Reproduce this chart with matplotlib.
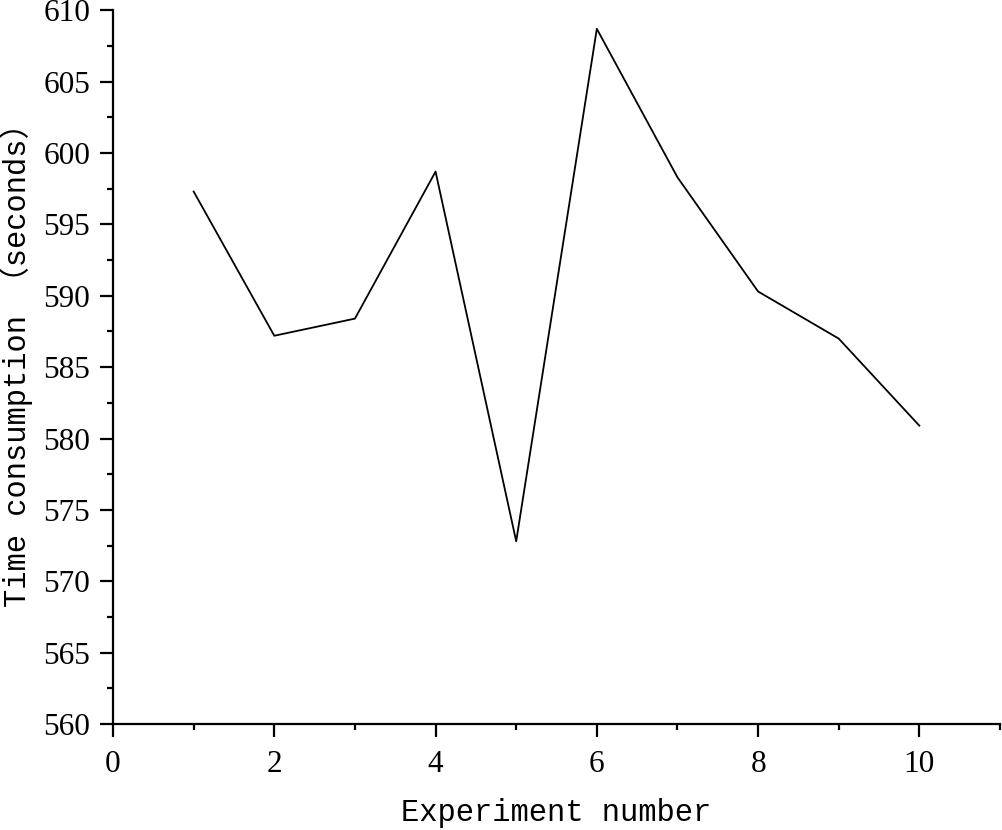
import matplotlib
matplotlib.use("Agg")
import matplotlib.pyplot as plt
from matplotlib.ticker import MultipleLocator

# experiment number vs time consumption
experiment = [1, 2, 3, 4, 5, 6, 7, 8, 9, 10]
time_sec = [597.3, 587.2, 588.4, 598.7, 572.8, 608.7, 598.3, 590.3, 587.0, 580.9]

fig = plt.figure(figsize=(10.03, 8.3), dpi=100)
ax = fig.add_axes([0.1127, 0.1277, 0.8843, 0.8599])

ax.plot(experiment, time_sec, color="black", linewidth=1.3)

ax.set_xlim(0, 11)
ax.set_ylim(560, 610)
ax.xaxis.set_major_locator(MultipleLocator(2))
ax.xaxis.set_minor_locator(MultipleLocator(1))
ax.yaxis.set_major_locator(MultipleLocator(5))
ax.yaxis.set_minor_locator(MultipleLocator(2.5))

for s in ["top", "right"]:
    ax.spines[s].set_visible(False)
for s in ["left", "bottom"]:
    ax.spines[s].set_linewidth(1.6)

ax.tick_params(which="major", direction="out", length=9.5, width=1.6, pad=7)
ax.tick_params(which="minor", direction="out", length=4.5, width=1.6)
ax.tick_params(axis="x", which="major", pad=9)
for lab in ax.get_xticklabels() + ax.get_yticklabels():
    lab.set_family("Liberation Serif")
    lab.set_fontsize(22.5)

lab_font = ["Liberation Mono", "Noto Sans CJK SC"]
ax.set_xlabel("Experiment number", family=lab_font, fontsize=22, labelpad=14)
ax.set_ylabel("Time consumption \uff08seconds\uff09", family=lab_font, fontsize=22, labelpad=6)
ax.yaxis.set_label_coords(-0.09, 0.513)

fig.savefig("out.png", dpi=100)
